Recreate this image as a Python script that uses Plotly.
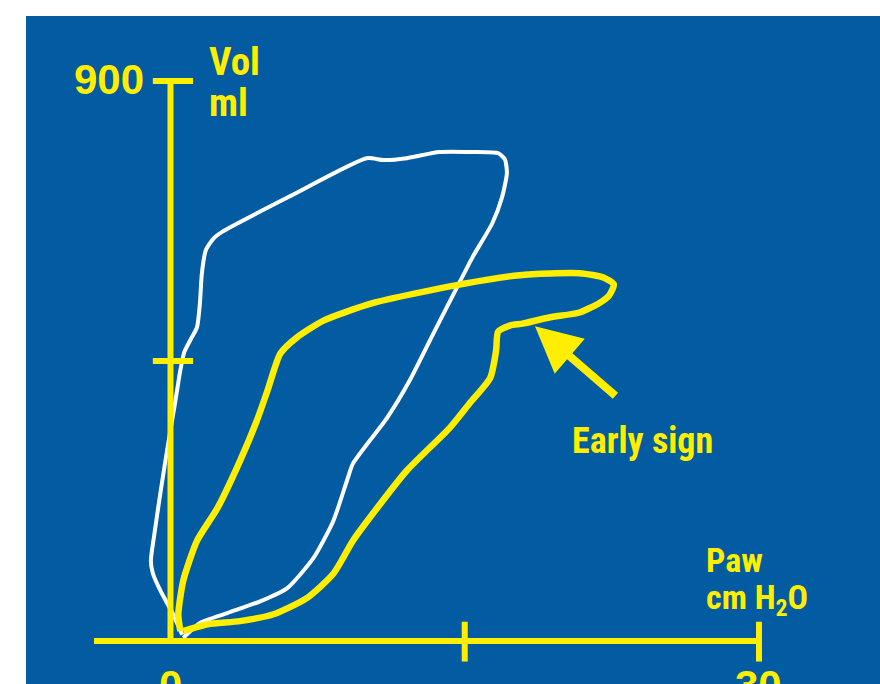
import plotly.graph_objects as go

# ---- data (Paw in cm H2O, Vol in ml) ----
white_paw = [0.6, 0.1, -0.5, -0.9, -1.0, -0.85, -0.5, -0.15, 0.25, 0.5, 0.7, 1.0, 1.35, 1.5, 1.6, 1.8,
             2.2, 2.65, 6.1, 10.0, 10.85, 12.05, 13.7, 15.4, 16.7, 17.05, 17.15, 16.9, 16.4, 15.4, 14.6,
             13.4, 12.2, 11.05, 9.3, 9.0, 8.3, 7.3, 5.95, 4.6, 2.9, 1.5, 0.65]
white_vol = [10, 45, 80, 109, 129, 166, 241, 311, 386, 435, 464, 483, 504, 543, 591, 628,
             647, 658, 715, 776, 773, 776, 786, 786, 784, 774, 752, 713, 671, 617, 568,
             494, 419, 359, 285, 258, 193, 134, 85, 64, 45, 29, 5]

yellow_paw = [0.5, 0.4, 0.65, 1.35, 2.4, 3.55, 4.4, 4.95, 5.6, 6.45, 7.8, 10.3, 14.6, 17.8, 20.85,
              22.1, 22.6, 22.35, 21.85, 20.85, 19.3, 17.95, 17.3, 16.7, 16.6, 16.3, 15.25, 14.25,
              12.05, 10.3, 9.3, 8.3, 6.95, 5.25, 3.55, 1.9, 0.65]
yellow_vol = [16, 43, 97, 161, 214, 290, 354, 403, 462, 488, 515, 543, 572, 588, 591,
              584, 573, 555, 543, 528, 520, 510, 507, 497, 467, 423, 382, 343,
              274, 204, 161, 108, 69, 43, 32, 27, 16]

x_ticks = [0, 15, 30]
x_tick_labels = ["0", "", "30"]
y_ticks = [450, 900]
y_tick_labels = ["", "900"]

arrow_tip = (18.58, 506)
arrow_tail = (22.76, 392)

X_RANGE = [-7.366, 36.17]
Y_RANGE = [-69.1, 1004.5]

BLUE = "#035BA1"
YELLOW = "#FFEE00"
NARROW = "Roboto Condensed, Roboto, sans-serif"
WIDE = "Liberation Sans, Arial, sans-serif"

fig = go.Figure()
fig.add_trace(go.Scatter(x=white_paw, y=white_vol, mode="lines",
                         line=dict(color="white", width=4, shape="spline", smoothing=0.6),
                         hoverinfo="skip", showlegend=False))
fig.add_trace(go.Scatter(x=yellow_paw, y=yellow_vol, mode="lines",
                         line=dict(color=YELLOW, width=6.5, shape="spline", smoothing=0.6),
                         hoverinfo="skip", showlegend=False))

shapes = []
# axis lines
shapes.append(dict(type="line", xref="x", yref="y", x0=-3.9, x1=30, y0=0, y1=0,
                   line=dict(color=YELLOW, width=6)))
shapes.append(dict(type="line", xref="x", yref="y", x0=0, x1=0, y0=0, y1=900,
                   line=dict(color=YELLOW, width=6)))
for t in x_ticks[1:]:
    shapes.append(dict(type="line", xref="x", yref="y", x0=t, x1=t, y0=-33, y1=31,
                       line=dict(color=YELLOW, width=6)))
for t in y_ticks:
    shapes.append(dict(type="line", xref="x", yref="y", x0=-0.9, x1=1.15, y0=t, y1=t,
                       line=dict(color=YELLOW, width=6)))

ann = []
label_y_paper = (-71 - Y_RANGE[0]) / (Y_RANGE[1] - Y_RANGE[0])
for t, lab in zip(x_ticks, x_tick_labels):
    if lab:
        ann.append(dict(x=t, y=label_y_paper, xref="x", yref="paper", text=lab, showarrow=False,
                        xanchor="center", yanchor="middle",
                        font=dict(family=WIDE, size=42, color=YELLOW, weight="bold")))
for t, lab in zip(y_ticks, y_tick_labels):
    if lab:
        ann.append(dict(x=-1.25, y=t + 2, xref="x", yref="y", text=lab, showarrow=False,
                        xanchor="right", yanchor="middle",
                        font=dict(family=WIDE, size=42, color=YELLOW, weight="bold")))

def label(x, y, text, size):
    ann.append(dict(x=x, y=y, xref="x", yref="y", text=text, showarrow=False,
                    xanchor="left", yanchor="middle",
                    font=dict(family=NARROW, size=size, color=YELLOW, weight="bold")))

label(1.86, 930, "Vol", 39)
label(1.86, 865, "ml", 39)
label(27.2, 130, "Paw", 34)
label(27.2, 67, "cm H<sub>2</sub>O", 34)
label(20.37, 322, "Early sign", 36)

ann.append(dict(x=arrow_tip[0], y=arrow_tip[1], ax=arrow_tail[0], ay=arrow_tail[1],
                xref="x", yref="y", axref="x", ayref="y", text="", showarrow=True,
                arrowhead=2, arrowwidth=8, arrowsize=1.15, arrowcolor=YELLOW, standoff=0))

fig.update_layout(
    width=880, height=684,
    margin=dict(l=26, r=0, t=16, b=0),
    paper_bgcolor="white", plot_bgcolor=BLUE,
    xaxis=dict(range=X_RANGE, visible=False, fixedrange=True),
    yaxis=dict(range=Y_RANGE, visible=False, fixedrange=True),
    shapes=shapes, annotations=ann,
)

fig.write_html("out.html", config={"displayModeBar": False},
               post_script="document.body.style.margin='0';")
